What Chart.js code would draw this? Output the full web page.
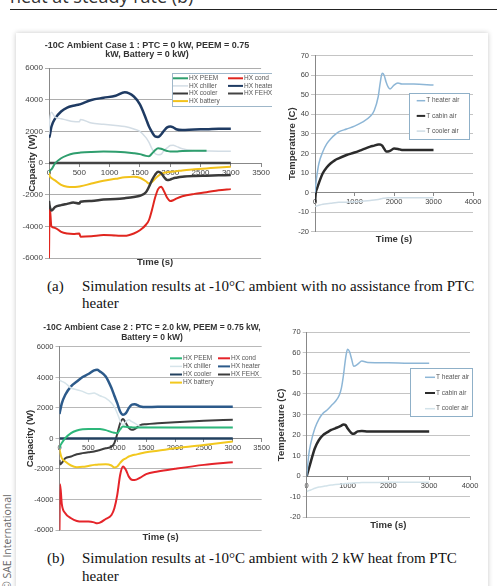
<!DOCTYPE html>
<html lang="en">
<head>
<meta charset="UTF-8">
<title>-10C Ambient Cases</title>
<script src="https://cdn.jsdelivr.net/npm/chart.js"></script>
<style>
  body { margin: 0; width: 500px; height: 586px; overflow: hidden; position: relative; background: #fff; }
  .head { position: absolute; left: 10px; top: -13px; font: 18px/18px 'Open Sans', sans-serif; color: #333; white-space: nowrap; }
  .rule { position: absolute; left: 10px; top: 9px; width: 487px; border-top: 1.5px solid #222; }
  .card { position: absolute; left: 16px; top: 33px; width: 472px; height: 580px; background: #fff; box-shadow: 0 0 5px rgba(0,0,0,0.22); }
  canvas { position: absolute; }
  .cap { position: absolute; font: 15px/17px 'Liberation Serif', 'Times New Roman', serif; color: #111; white-space: nowrap; }
  .sae { position: absolute; left: 1px; top: 590px; transform: rotate(-90deg); transform-origin: left top; font: 10.5px/12px 'Open Sans', sans-serif; color: #666; white-space: nowrap; }
</style>
</head>
<body>
  <div class="head">heat at steady rate (b)</div>
  <div class="rule"></div>
  <div class="card"></div>

  <canvas id="case1Cap" width="257" height="234" style="left:15px;top:38px"></canvas>
  <canvas id="case1Temp" width="216" height="200" style="left:272px;top:44px"></canvas>
  <canvas id="case2Cap" width="257" height="224" style="left:15px;top:318px"></canvas>
  <canvas id="case2Temp" width="216" height="208" style="left:272px;top:322px"></canvas>

  <div class="cap" style="left:47px;top:278px">(a)</div>
  <div class="cap" style="left:82px;top:278px">Simulation results at -10°C ambient with no assistance from PTC<br>heater</div>
  <div class="cap" style="left:47px;top:549px;line-height:18px">(b)</div>
  <div class="cap" style="left:82px;top:549px;line-height:18px">Simulation results at -10°C ambient with 2 kW heat from PTC<br>heater</div>
  <div class="sae">© SAE International</div>

  <script>
    // Case 1 : PTC = 0 kW — heat exchanger capacity (W)
    const case1Time    = [0, 10, 40, 100, 200, 300, 400, 500, 520, 700, 900, 1100, 1250, 1400, 1500, 1600, 1650, 1700, 1750, 1800, 1850, 1900, 1950, 2000, 2050, 2100, 2200, 2400, 2600, 2800, 3000];
    const case1Peem    = [-600, -500, -400, -30, 300, 480, 600, 650, 660, 700, 720, 710, 680, 620, 560, 450, 430, 600, 800, 930, 900, 820, 760, 720, 720, 730, 760, 780, 780, null, null];
    const case1Chiller = [1800, 2600, 3200, 2900, 2800, 2700, 2620, 2600, 2750, 2520, 2450, 2370, 2300, 2150, 2000, 1600, 1300, 900, 600, 520, 550, 800, 950, 1100, 1120, 1050, 900, 780, 760, 750, 750];
    const case1Cooler  = [-2400, -2700, -3000, -2780, -2660, -2580, -2500, -2560, -2450, -2400, -2300, -2270, -2220, -2150, -2070, -1850, -1500, -1080, -750, -560, -640, -900, -1080, -1050, -970, -930, -870, -820, -800, -780, -760];
    const case1Battery = [-600, -800, -950, -1100, -1380, -1500, -1520, -1480, -1470, -1300, -1120, -1000, -900, -870, -930, -1150, -1300, -1200, -1000, -820, -680, -620, -580, -560, -540, -520, -470, -400, -340, -280, -230];
    const case1Cond    = [-6000, -2700, -4000, -4100, -4350, -4450, -4480, -4450, -4650, -4620, -4550, -4580, -4600, -4450, -4250, -3900, -3600, -2950, -2200, -1650, -1500, -1800, -2200, -2400, -2350, -2250, -2100, -1950, -1850, -1720, -1650];
    const case1Heater  = [1600, 1700, 2300, 2800, 3250, 3500, 3620, 3700, 3720, 3980, 4120, 4250, 4470, 4200, 3700, 2800, 2300, 1950, 1680, 1650, 1800, 2050, 2250, 2300, 2250, 2130, 2080, 2120, 2130, 2170, 2170];
    const case1Fehx    = [0, 0, 0, 0, 0, 0, 0, 0, 0, 0, 0, 0, 0, 0, 0, 0, 0, 0, 0, 0, 0, 0, 0, 0, 0, 0, 0, 0, 0, 0, 0];

    // Case 1 — air temperatures (C)
    const case1TempTime = [0, 20, 50, 100, 200, 300, 400, 500, 600, 800, 1000, 1200, 1400, 1500, 1600, 1650, 1700, 1750, 1800, 1850, 1900, 2000, 2100, 2200, 2500, 3000];
    const case1HeaterAir = [0, 4, 9, 15, 21, 25, 27.5, 29.5, 31, 32.5, 34, 36, 39, 42, 49, 56, 61, 60, 56.5, 54, 53, 55, 56, 55.5, 55.5, 55];
    const case1CabinAir  = [-5, 0, 2, 5, 10, 13, 15, 16.5, 17.5, 19.2, 20.5, 22, 23.5, 24, 24.6, 24.6, 24, 22.5, 21, 21, 21.3, 22.5, 22.3, 21.8, 21.8, 21.8];
    const case1CoolerAir = [-7, -7, -6.8, -6.5, -6, -5.7, -5.5, -5.2, -5, -4.9, -4.7, -4.4, -4, -3.8, -3.5, -3.3, -3, -2.9, -2.8, -2.7, -2.6, -2.6, -2.6, -2.6, -2.6, -2.6];

    // Case 2 : PTC = 2.0 kW — heat exchanger capacity (W)
    const case2Time    = [0, 10, 40, 100, 200, 300, 400, 500, 600, 650, 700, 800, 900, 950, 1000, 1050, 1100, 1150, 1200, 1250, 1300, 1400, 1500, 1700, 2000, 2500, 3000];
    const case2Peem    = [-640, -500, -300, 20, 350, 520, 610, 630, 630, 630, 620, 550, 420, 380, 350, 600, 790, 770, 740, 730, 720, 720, 720, 720, 720, 720, 720];
    const case2Chiller = [3850, 3800, 3750, 3630, 3310, 3200, 3090, 2930, 2980, 2900, 2800, 2650, 2320, 2050, 1660, 1160, 900, 1100, 1230, 1100, 1010, 790, 760, 740, 720, 720, 720];
    const case2Cooler  = [0, 0, 0, 0, 0, 0, 0, 0, 0, 0, 0, 0, 0, 0, 0, 0, 0, 0, 0, 0, 0, 0, 0, 0, 0, 0, 0];
    const case2Battery = [-700, -900, -1290, -1510, -1770, -1880, -1860, -1800, -1730, -1720, -1700, -1690, -1770, -1900, -1840, -1600, -1400, -1300, -1180, -1120, -1070, -990, -900, -800, -640, -420, -200];
    const case2Cond    = [-6000, -3000, -4300, -4900, -5230, -5410, -5450, -5450, -5500, -5560, -5520, -5280, -5020, -4580, -3700, -2390, -1840, -2060, -2500, -2700, -2720, -2560, -2340, -2170, -1990, -1730, -1560];
    const case2Heater  = [1600, 1800, 2300, 2870, 3420, 3740, 4030, 4230, 4470, 4510, 4400, 4070, 3310, 2800, 2320, 1770, 1550, 1660, 1990, 2210, 2250, 2100, 2060, 2080, 2080, 2080, 2080];
    const case2Fehx    = [-1400, -1700, -1600, -1290, -1180, -1030, -960, -900, -850, -800, -750, -640, -530, -300, 300, 1000, 1280, 1000, 700, 570, 620, 880, 940, 1000, 1070, 1160, 1230];

    // Case 2 — air temperatures (C)
    const case2TempTime = [0, 50, 100, 200, 300, 400, 500, 600, 700, 800, 850, 900, 950, 1000, 1050, 1100, 1150, 1250, 1350, 1500, 2000, 2500, 3000];
    const case2HeaterAir = [0, 10.3, 16, 23.3, 27.8, 30.6, 32.2, 34.3, 36.3, 39.5, 42.8, 49, 57, 61.7, 60.5, 57, 53.5, 54.5, 56, 55.3, 55.2, 55, 55];
    const case2CabinAir  = [0, 3.5, 7, 13.6, 17.6, 20, 21.3, 22.5, 23.3, 24.1, 24.6, 25.2, 24.9, 23.3, 22, 20.9, 20.6, 21.8, 22, 21.8, 21.8, 21.8, 21.8];
    const case2CoolerAir = [-7.5, -7, -6.7, -5.9, -5.3, -5, -4.6, -4.3, -4.1, -3.9, -3.8, -3.7, -3.6, -3.5, -3.4, -3.4, -3.3, -3.2, -3.1, -3.1, -3, -3, -3];

    const FONT = "'Liberation Sans', Arial, sans-serif";

    // small legend drawn inside the plot, filled column by column
    const lineLegend = {
      id: 'lineLegend',
      afterDraw(chart, args, o) {
        const ctx = chart.ctx;
        ctx.save();
        if (o.box) {
          ctx.fillStyle = '#fff';
          ctx.fillRect(o.box.x, o.box.y, o.box.w, o.box.h);
          ctx.strokeStyle = o.box.color;
          ctx.lineWidth = 1;
          ctx.strokeRect(o.box.x + 0.5, o.box.y + 0.5, o.box.w, o.box.h);
        }
        ctx.font = o.fontSize + 'px ' + FONT;
        ctx.textBaseline = 'middle';
        chart.data.datasets.forEach((ds, i) => {
          const x = o.x + Math.floor(i / o.rows) * o.colW;
          const y = o.y + (i % o.rows) * o.rowH;
          ctx.strokeStyle = ds.borderColor;
          ctx.lineWidth = Math.min(ds.borderWidth, 2);
          ctx.beginPath();
          ctx.moveTo(x, y);
          ctx.lineTo(x + o.lineW, y);
          ctx.stroke();
          ctx.fillStyle = '#555';
          ctx.fillText(ds.label, x + o.lineW + 1, y);
        });
        ctx.restore();
      }
    };

    // the chart titles sit a little right of the canvas centre
    const titleShift = {
      id: 'titleShift',
      afterLayout(chart, args, o) {
        if (chart.titleBlock && o.dx) {
          chart.titleBlock.left += o.dx;
          chart.titleBlock.right += o.dx;
        }
      }
    };

    function series(label, time, vals, color, width) {
      return {
        label,
        data: time.map((t, i) => ({ x: t, y: vals[i] })),
        borderColor: color,
        backgroundColor: color,
        borderWidth: width,
        pointRadius: 0,
        cubicInterpolationMode: 'monotone',
        spanGaps: false
      };
    }

    function makeChart(id, datasets, g) {
      const plugins = {
        legend: { display: false },
        tooltip: { enabled: false },
        lineLegend: g.legend,
        titleShift: { dx: g.titleDx || 0 }
      };
      if (g.title) {
        plugins.title = { display: true, text: g.title, color: '#333',
          font: { family: FONT, size: g.titleSize, weight: 'bold', lineHeight: g.titleLine }, padding: g.titlePad };
      }
      return new Chart(document.getElementById(id), {
        type: 'line',
        data: { datasets },
        plugins: [lineLegend, titleShift],
        options: {
          responsive: false,
          animation: false,
          events: [],
          layout: { autoPadding: false, padding: g.padding },
          scales: {
            x: {
              type: 'linear', position: { y: 0 }, min: 0, max: g.xMax,
              ticks: { stepSize: g.xStep, autoSkip: false, maxRotation: 0, padding: 2, color: '#444',
                font: { family: FONT, size: g.tickSize }, callback: v => v },
              grid: { drawOnChartArea: false, tickLength: 3, color: '#888' },
              border: { color: '#888' }
            },
            // bottom axis only carries the "Time (s)" title, centred under the plot
            x2: {
              type: 'linear', axis: 'x', position: 'bottom',
              ticks: { display: false }, grid: { display: false }, border: { display: false },
              title: { display: true, text: 'Time (s)', color: '#333',
                font: { family: FONT, size: 9.5, weight: 'bold', lineHeight: 1 },
                padding: { top: 0, bottom: g.timePad } },
              afterFit: s => { s.height = g.timeH; }
            },
            y: {
              min: g.yMin, max: g.yMax,
              ticks: { stepSize: g.yStep, padding: 2, color: '#444',
                font: { family: FONT, size: g.tickSize }, callback: v => v },
              grid: { color: g.gridColor, tickLength: 4 },
              border: { color: '#888' },
              title: { display: true, text: g.yTitle, color: '#333',
                font: { family: FONT, size: 9.5, weight: 'bold', lineHeight: 1.2 },
                padding: { top: g.yTitlePad, bottom: 0 } },
              afterFit: s => { s.width = g.yWidth; }
            }
          },
          plugins
        }
      });
    }

    makeChart('case1Cap', [
      series('HX PEEM', case1Time, case1Peem, '#2f9e6e', 2),
      series('HX chiller', case1Time, case1Chiller, '#d3dde5', 1.5),
      series('HX cooler', case1Time, case1Cooler, '#3a3a3a', 2.5),
      series('HX battery', case1Time, case1Battery, '#f2c21b', 2),
      series('HX cond', case1Time, case1Cond, '#e0261f', 2),
      series('HX heater', case1Time, case1Heater, '#1f3b63', 2.5),
      series('HX FEHX', case1Time, case1Fehx, '#444', 2.5)
    ], {
      title: ['-10C Ambient Case 1 : PTC = 0 kW, PEEM = 0.75', 'kW, Battery = 0 kW)'],
      titleSize: 9, titleLine: 1, titlePad: { top: 3, bottom: 9 }, titleDx: 5.5,
      timeH: 14, timePad: 4.75,
      padding: { left: 0, right: 4, top: 0, bottom: 0 },
      xMax: 3500, xStep: 500, yMin: -6000, yMax: 6000, yStep: 2000, gridColor: '#adadad',
      tickSize: 8, yTitle: 'Capacity (W)', yTitlePad: 11.3, yWidth: 34,
      legend: { x: 158, y: 40.3, rows: 4, rowH: 7.6, colW: 55, lineW: 15, fontSize: 6.5,
        box: { x: 157, y: 35, w: 110, h: 33, color: '#9fb7c9' } }
    });

    makeChart('case1Temp', [
      series('T heater air', case1TempTime, case1HeaterAir, '#8db6d6', 1.5),
      series('T cabin air', case1TempTime, case1CabinAir, '#2b2b2b', 2.5),
      series('T cooler air', case1TempTime, case1CoolerAir, '#cfdde6', 1.5)
    ], {
      timeH: 12.3, timePad: 0.25,
      padding: { left: 0, right: 15, top: 11.7, bottom: 0 },
      xMax: 4000, xStep: 1000, yMin: -20, yMax: 70, yStep: 10, gridColor: '#c4c4c4',
      tickSize: 7.5, yTitle: 'Temperature (C)', yTitlePad: 15, yWidth: 43,
      legend: { x: 144.7, y: 56.7, rows: 3, rowH: 15.2, colW: 0, lineW: 8.5, fontSize: 6.5,
        box: { x: 137, y: 49, w: 60, h: 46, color: '#8fb0c8' } }
    });

    makeChart('case2Cap', [
      series('HX PEEM', case2Time, case2Peem, '#2db77a', 2),
      series('HX chiller', case2Time, case2Chiller, '#d6e4ea', 1.5),
      series('HX cooler', case2Time, case2Cooler, '#22405f', 2.5),
      series('HX battery', case2Time, case2Battery, '#f2c81e', 2),
      series('HX cond', case2Time, case2Cond, '#e5242a', 2),
      series('HX heater', case2Time, case2Heater, '#2c5a8a', 2.5),
      series('HX FEHX', case2Time, case2Fehx, '#3d3d3d', 2)
    ], {
      title: ['-10C Ambient Case 2 : PTC = 2.0 kW, PEEM = 0.75 kW,', 'Battery = 0 kW)'],
      titleSize: 8.5, titleLine: 1.176, titlePad: { top: 5, bottom: 4 }, titleDx: 11.25,
      timeH: 12, timePad: 0.25,
      padding: { left: 0, right: 5.5, top: 0, bottom: 0 },
      xMax: 3500, xStep: 500, yMin: -6000, yMax: 6000, yStep: 2000, gridColor: '#b8b8b8',
      tickSize: 7.5, yTitle: 'Capacity (W)', yTitlePad: 9.3, yWidth: 44.5,
      legend: { x: 155, y: 40.3, rows: 4, rowH: 8.1, colW: 48, lineW: 12, fontSize: 6.5 }
    });

    makeChart('case2Temp', [
      series('T heater air', case2TempTime, case2HeaterAir, '#8db6d6', 1.5),
      series('T cabin air', case2TempTime, case2CabinAir, '#2b2b2b', 2.5),
      series('T cooler air', case2TempTime, case2CoolerAir, '#d3e3ea', 1.5)
    ], {
      timeH: 12.7, timePad: 0.25,
      padding: { left: 0, right: 18, top: 10.3, bottom: 0 },
      xMax: 4000, xStep: 1000, yMin: -20, yMax: 70, yStep: 10, gridColor: '#c4c4c4',
      tickSize: 7.5, yTitle: 'Temperature (C)', yTitlePad: 3.3, yWidth: 34.7,
      legend: { x: 153, y: 55.3, rows: 3, rowH: 15.7, colW: 0, lineW: 10, fontSize: 6.5,
        box: { x: 138, y: 46, w: 62, h: 48, color: '#8fb0c8' } }
    });
  </script>
</body>
</html>
